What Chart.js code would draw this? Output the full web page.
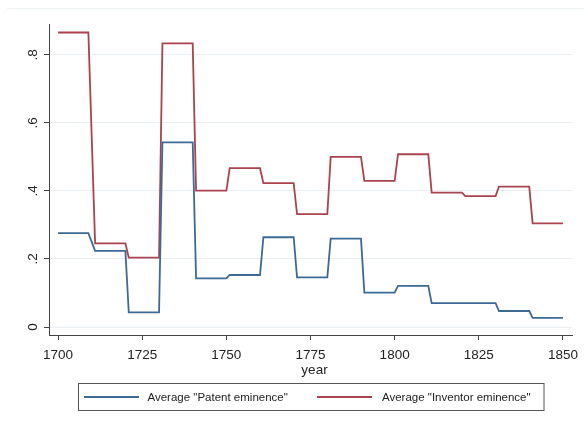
<!DOCTYPE html>
<html>
<head>
<meta charset="utf-8">
<script src="https://cdn.jsdelivr.net/npm/chart.js@4/dist/chart.umd.min.js"></script>
<style>
html,body{margin:0;padding:0;background:#fff;}
#wrap{position:relative;width:584px;height:427px;}
</style>
</head>
<body>
<div id="wrap"><canvas id="c" width="584" height="427"></canvas></div>
<script>
// Decade segments (start and end years of each constant step)
const segStart = [1700, 1711, 1721, 1731, 1741, 1751, 1761, 1771, 1781, 1791, 1801, 1811, 1821, 1831, 1841];
const segEnd   = [1709, 1720, 1730, 1740, 1750, 1760, 1770, 1780, 1790, 1800, 1810, 1820, 1830, 1840, 1850];
const patentEminence   = [0.276, 0.224, 0.043, 0.543, 0.143, 0.153, 0.264, 0.146, 0.260, 0.101, 0.121, 0.070, 0.070, 0.047, 0.027];
const inventorEminence = [0.866, 0.246, 0.204, 0.834, 0.401, 0.467, 0.423, 0.332, 0.500, 0.430, 0.508, 0.395, 0.385, 0.413, 0.305];
const xTicks = [1700, 1725, 1750, 1775, 1800, 1825, 1850];
const yTicks = [0, 0.2, 0.4, 0.6, 0.8];
const yTickLabels = ["0", ".2", ".4", ".6", ".8"];
const seriesLabels = ['Average "Patent eminence"', 'Average "Inventor eminence"'];
const xTitle = "year";

function steps(vals){
  const pts = [];
  vals.forEach((v,i)=>{ pts.push({x:segStart[i], y:v}); pts.push({x:segEnd[i], y:v}); });
  return pts;
}

const BLUE = "#3d6a95";
const RED = "#a9434f";
const FONT = "'Liberation Sans', Arial, sans-serif";

const labelsPlugin = {
  id: 'labelsPlugin',
  afterDraw(chart){
    const ctx = chart.ctx;
    const xs = chart.scales.x, ys = chart.scales.y;
    const ca = chart.chartArea;
    ctx.save();
    // faint top frame line
    ctx.strokeStyle = "#edf2f5";
    ctx.lineWidth = 1;
    ctx.beginPath(); ctx.moveTo(7, 8.5); ctx.lineTo(584, 8.5); ctx.stroke();
    ctx.fillStyle = "#222";
    // x tick labels
    ctx.font = "13.5px " + FONT;
    ctx.textAlign = "center"; ctx.textBaseline = "middle";
    xTicks.forEach(t=>{ ctx.fillText(String(t), xs.getPixelForValue(t), ca.bottom + 20); });
    // x title
    ctx.fillText(xTitle, (ca.left+ca.right)/2 + 4, ca.bottom + 35);
    // y tick labels rotated
    yTicks.forEach((t,i)=>{
      ctx.save();
      ctx.translate(33, ys.getPixelForValue(t));
      ctx.rotate(-Math.PI/2);
      ctx.fillText(yTickLabels[i], 0, 0);
      ctx.restore();
    });
    // legend box
    const bx = 78, by = 383.5, bw = 465.5, bh = 27;
    ctx.strokeStyle = "#555"; ctx.lineWidth = 1;
    ctx.strokeRect(bx+0.5, by, bw, bh);
    const ly = by + bh/2;
    ctx.font = "11.5px " + FONT;
    ctx.textAlign = "left";
    const items = [{c:BLUE, x1:84, x2:139, tx:147.5, t:seriesLabels[0]},{c:RED, x1:317, x2:372, tx:382, t:seriesLabels[1]}];
    items.forEach(it=>{
      ctx.strokeStyle = it.c; ctx.lineWidth = 1.8;
      ctx.beginPath(); ctx.moveTo(it.x1, ly); ctx.lineTo(it.x2, ly); ctx.stroke();
      ctx.fillStyle = "#222";
      ctx.fillText(it.t, it.tx, ly+0.5);
    });
    ctx.restore();
  }
};

new Chart(document.getElementById('c'), {
  type: 'line',
  data: {
    datasets: [
      {label: seriesLabels[0], data: steps(patentEminence), borderColor: BLUE, borderWidth: 1.8, pointRadius: 0, fill: false, tension: 0},
      {label: seriesLabels[1], data: steps(inventorEminence), borderColor: RED, borderWidth: 1.8, pointRadius: 0, fill: false, tension: 0}
    ]
  },
  options: {
    responsive: false,
    animation: false,
    devicePixelRatio: 1,
    layout: {padding: {left: 0, top: 24, right: 12, bottom: 0}},
    plugins: {legend: {display: false}, tooltip: {enabled: false}},
    scales: {
      x: {
        type: 'linear', min: 1697.3, max: 1852.7,
        afterBuildTicks: s => { s.ticks = xTicks.map(v=>({value:v})); },
        afterFit: s => { s.height = 92; },
        ticks: {display: false},
        grid: {drawOnChartArea: false, tickLength: 5, tickColor: "#444", tickWidth: 1},
        border: {color: "#444", width: 1}
      },
      y: {
        type: 'linear', min: -0.0235, max: 0.891,
        afterBuildTicks: s => { s.ticks = yTicks.map(v=>({value:v})); },
        afterFit: s => { s.width = 49; },
        ticks: {display: false},
        grid: {color: "#e9eff3", lineWidth: 1, tickLength: 5, tickColor: "#444", tickWidth: 1},
        border: {color: "#444", width: 1}
      }
    }
  },
  plugins: [labelsPlugin]
});
</script>
</body>
</html>
